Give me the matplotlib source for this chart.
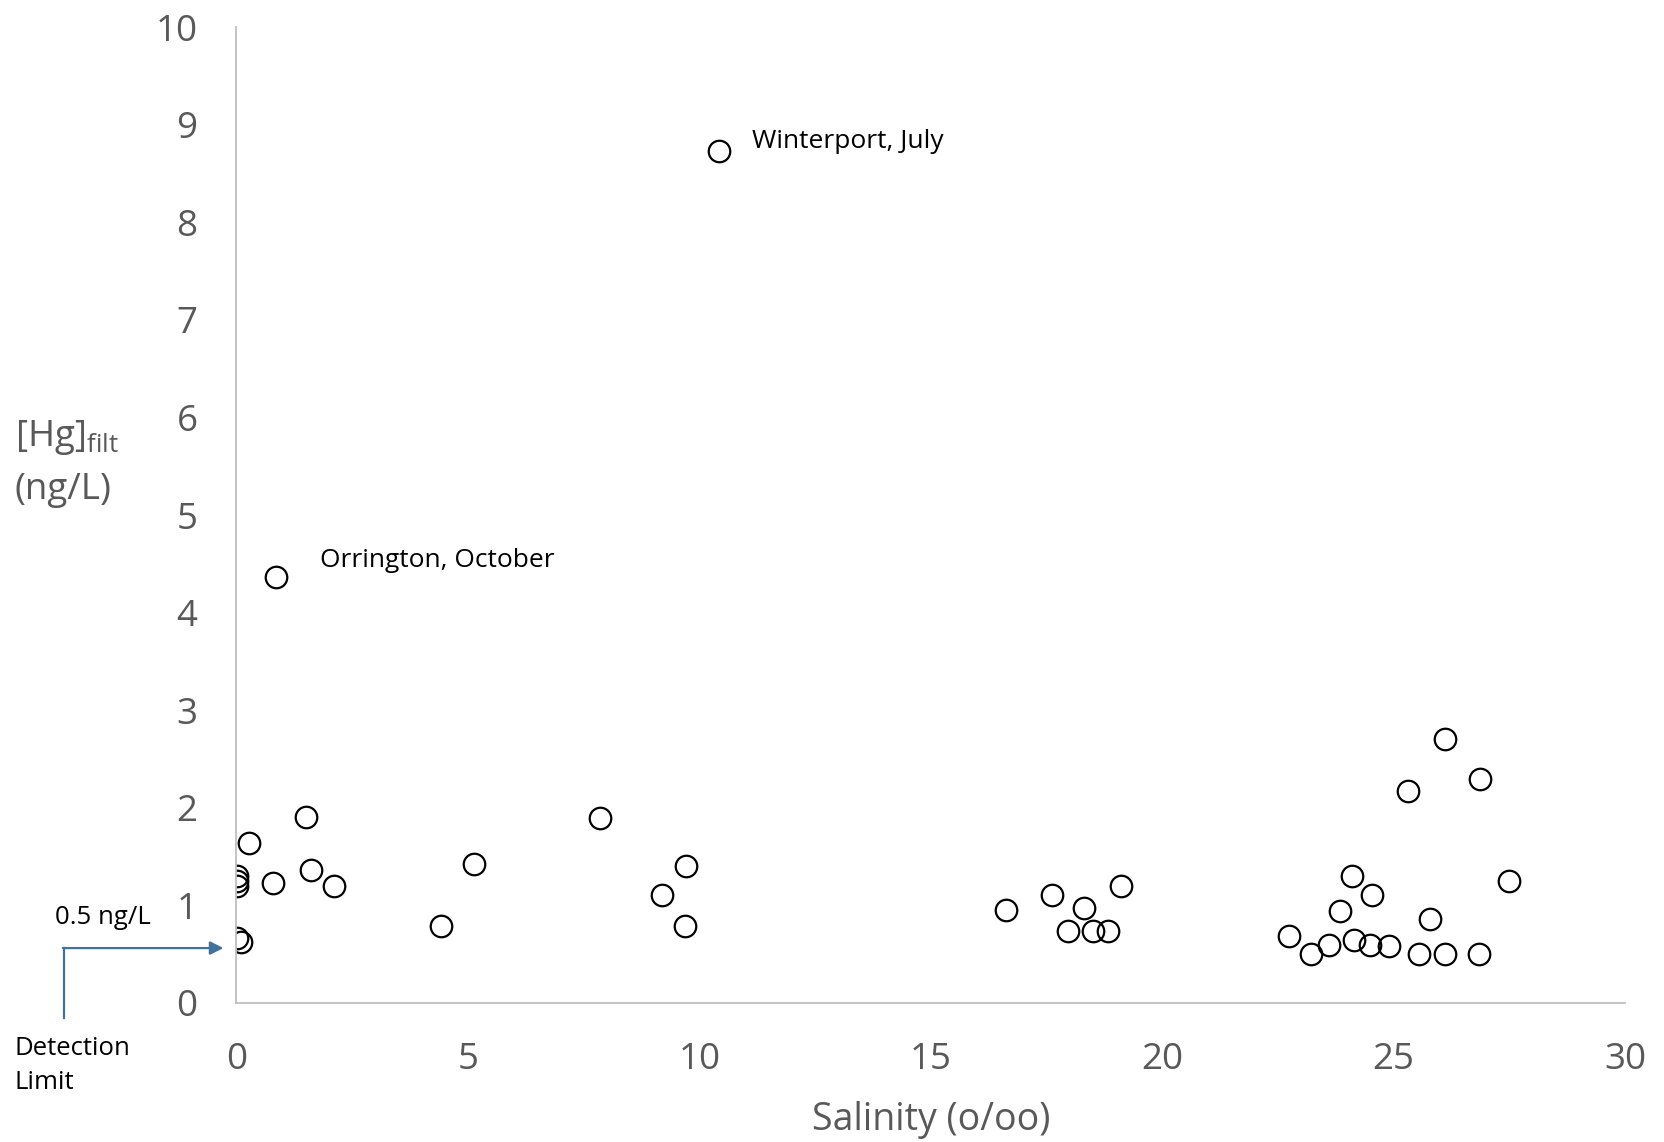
import matplotlib
matplotlib.use('Agg')
import matplotlib.pyplot as plt

plt.rcParams['font.family'] = ['Open Sans', 'DejaVu Sans']
plt.rcParams['mathtext.fontset'] = 'custom'
plt.rcParams['mathtext.rm'] = 'Open Sans'

# salinity (o/oo) and filtered Hg (ng/L)
salinity = [0.02, 0.02, 0.02, 0.27, 0.78, 1.50, 1.62, 2.11, 0.01, 0.09, 0.85,
            4.41, 5.14, 7.86, 9.19, 9.70, 9.72, 10.42,
            16.63, 17.62, 17.97, 18.32, 18.51, 18.84, 19.11,
            22.75, 23.22, 23.60, 23.84, 24.11, 24.14, 24.49, 24.53, 24.89,
            25.31, 25.54, 25.79, 26.12, 26.12, 26.84, 26.87, 27.50]
hg_filt = [1.30, 1.25, 1.20, 1.64, 1.23, 1.90, 1.36, 1.20, 0.66, 0.62, 4.36,
           0.79, 1.42, 1.89, 1.10, 0.79, 1.40, 8.73,
           0.95, 1.10, 0.74, 0.97, 0.73, 0.74, 1.20,
           0.68, 0.50, 0.59, 0.94, 1.30, 0.64, 0.59, 1.10, 0.58,
           2.17, 0.50, 0.86, 2.70, 0.50, 0.50, 2.29, 1.25]

x_ticks = [0, 5, 10, 15, 20, 25, 30]
y_ticks = list(range(0, 11))

notes = ['Winterport, July', 'Orrington, October']
note_xy = [(11.13, 8.83), (1.8, 4.53)]

fig = plt.figure(figsize=(16.65, 11.42), dpi=100)
ax = fig.add_axes([0.142, 0.122, 0.834, 0.854])

ax.plot(salinity, hg_filt, linestyle='none', marker='o', markersize=15.5,
        markerfacecolor='none', markeredgecolor='black', markeredgewidth=1.6)

ax.set_xlim(0, 30)
ax.set_ylim(0, 10)
ax.set_xticks(x_ticks)
ax.set_yticks(y_ticks)
ax.tick_params(length=0, labelsize=26.5, labelcolor='#595959')
ax.tick_params(axis='x', pad=28)
ax.tick_params(axis='y', pad=28)
for side in ['top', 'right']:
    ax.spines[side].set_visible(False)
for side in ['left', 'bottom']:
    ax.spines[side].set_color('#bfbfbf')
    ax.spines[side].set_linewidth(1.3)

ax.set_xlabel('Salinity (o/oo)', fontsize=27, color='#595959', labelpad=17)

fig.text(0.009, 0.617, r'[Hg]$_{\mathregular{filt}}$', fontsize=26.5, color='#595959',
         ha='left', va='center')
fig.text(0.009, 0.571, '(ng/L)', fontsize=26.5, color='#595959', ha='left', va='center')

for label, (lx, ly) in zip(notes, note_xy):
    ax.text(lx, ly, label, fontsize=19, color='black', ha='left', va='center')

# detection limit callout
arrow_color = '#41719c'
ax.plot([-3.72, -3.72], [-0.16, 0.56], color=arrow_color, linewidth=1.6, clip_on=False)
ax.annotate('', xy=(-0.28, 0.56), xytext=(-3.75, 0.56),
            arrowprops=dict(arrowstyle='-|>', color=arrow_color, linewidth=1.6,
                            mutation_scale=20, shrinkA=0, shrinkB=0),
            annotation_clip=False)
fig.text(0.033, 0.197, '0.5 ng/L', fontsize=18.5, color='black', ha='left', va='center')
fig.text(0.009, 0.067, 'Detection\nLimit', fontsize=18.5, color='black', ha='left',
         va='center', linespacing=1.45)

fig.savefig('out.png', dpi=100)
